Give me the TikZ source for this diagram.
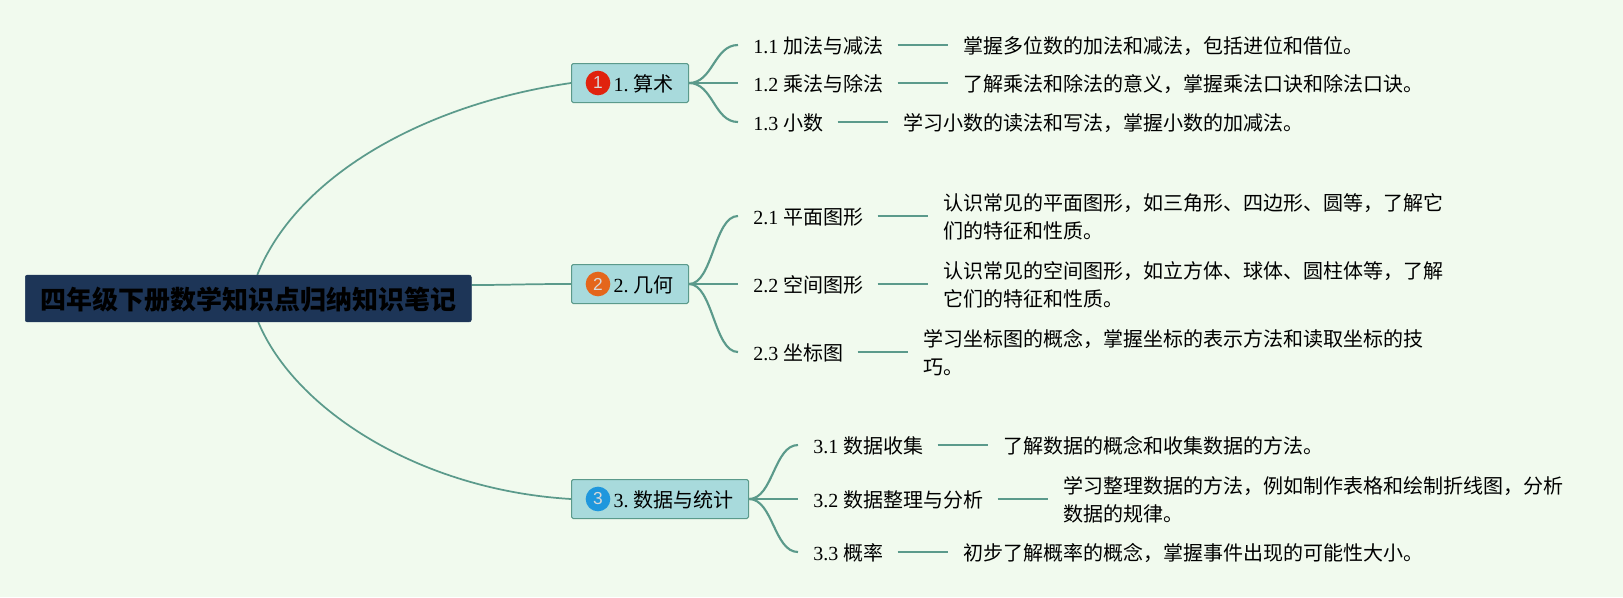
\documentclass[tikz,border=0pt]{standalone}
\usepackage{fontspec}
\setmainfont{Liberation Serif}
\newfontfamily\cjk{Noto Sans CJK SC}
\newfontfamily\iconfont{Liberation Sans}
\usetikzlibrary{backgrounds}
\definecolor{bgc}{HTML}{F1FAEE}
\definecolor{boxc}{HTML}{A8DADC}
\definecolor{rootc}{HTML}{1D3557}
\definecolor{linec}{HTML}{5B9A8B}
\definecolor{ired}{HTML}{E0230E}
\definecolor{iorange}{HTML}{E4661B}
\definecolor{iblue}{HTML}{1F97DD}
\newcommand{\dn}[1]{\raisebox{-0.8pt}[\height][\depth]{#1}}
\newcommand{\branchlabel}[2]{\makebox[#1][l]{\hspace{31.5pt}\dn{#2}}}
\newcommand{\leaftext}[2]{\dn{#1 {\cjk #2}}\hspace*{-0.6pt}}
\tikzset{
  rootbox/.style={draw=rootc,fill=rootc,rounded corners=1.5pt,anchor=west,inner xsep=0pt,inner ysep=0pt,
    minimum width=334.5pt,minimum height=35pt,align=center,font=\cjk\bfseries\fontsize{19.5}{24}\selectfont,text=black},
  branchbox/.style={draw=linec,line width=0.75pt,fill=boxc,rounded corners=1.2pt,anchor=west,inner xsep=0pt,inner ysep=0pt,
    minimum height=29.25pt,font=\fontsize{15}{18}\selectfont,text=black},
  leafbox/.style={anchor=west,inner xsep=11.25pt,inner ysep=2pt,font=\fontsize{15}{18}\selectfont,text=black},
  detailbox/.style={anchor=west,inner xsep=11.25pt,inner ysep=2pt,align=left,font=\cjk\fontsize{15}{21}\selectfont,text=black},
  iconball/.style={circle,minimum size=18.5pt,inner sep=0pt,text=white!85!black,font=\iconfont\fontsize{13}{15}\selectfont},
  conn/.style={draw=linec,line width=1.6pt},
  leafconn/.style={draw=linec,line width=1.4pt},
  mainconn/.style={draw=linec,line width=1.3pt}
}
\begin{document}
\begin{tikzpicture}[x=0.75pt,y=-0.75pt]
\useasboundingbox (0,0) rectangle (1623,597);
% root
\node[rootbox] (root) at (25,298.5) {\dn{四年级下册数学知识点归纳知识笔记}};
% branches
\node[branchbox] (b1) at (571,83) {\branchlabel{87.75pt}{1.\hspace{4pt}{\cjk 算术}}};
\node[branchbox] (b2) at (571,284) {\branchlabel{87.75pt}{2.\hspace{4pt}{\cjk 几何}}};
\node[branchbox] (b3) at (571,499) {\branchlabel{132.75pt}{3.\hspace{4pt}{\cjk 数据与统计}}};
\node[iconball,fill=ired] (i1) at (598,83) {1};
\node[iconball,fill=iorange] (i2) at (598,284) {2};
\node[iconball,fill=iblue] (i3) at (598,499) {3};
% leaves
\node[leafbox] (l11) at (738,45) {\leaftext{1.1}{加法与减法}};
\node[leafbox] (l12) at (738,83) {\leaftext{1.2}{乘法与除法}};
\node[leafbox] (l13) at (738,122) {\leaftext{1.3}{小数}};
\node[leafbox] (l21) at (738,216) {\leaftext{2.1}{平面图形}};
\node[leafbox] (l22) at (738,284) {\leaftext{2.2}{空间图形}};
\node[leafbox] (l23) at (738,352) {\leaftext{2.3}{坐标图}};
\node[leafbox] (l31) at (798,445) {\leaftext{3.1}{数据收集}};
\node[leafbox] (l32) at (798,499) {\leaftext{3.2}{数据整理与分析}};
\node[leafbox] (l33) at (798,552) {\leaftext{3.3}{概率}};
% details
\node[detailbox] (d11) at (948,45) {\dn{掌握多位数的加法和减法，包括进位和借位。}};
\node[detailbox] (d12) at (948,83) {\dn{了解乘法和除法的意义，掌握乘法口诀和除法口诀。}};
\node[detailbox] (d13) at (888,122) {\dn{学习小数的读法和写法，掌握小数的加减法。}};
\node[detailbox] (d21) at (928,216) {\dn{认识常见的平面图形，如三角形、四边形、圆等，了解它}\\\dn{们的特征和性质。}};
\node[detailbox] (d22) at (928,284) {\dn{认识常见的空间图形，如立方体、球体、圆柱体等，了解}\\\dn{它们的特征和性质。}};
\node[detailbox] (d23) at (908,352) {\dn{学习坐标图的概念，掌握坐标的表示方法和读取坐标的技}\\\dn{巧。}};
\node[detailbox] (d31) at (988,445) {\dn{了解数据的概念和收集数据的方法。}};
\node[detailbox] (d32) at (1048,499) {\dn{学习整理数据的方法，例如制作表格和绘制折线图，分析}\\\dn{数据的规律。}};
\node[detailbox] (d33) at (948,552) {\dn{初步了解概率的概念，掌握事件出现的可能性大小。}};
% connectors, drawn under the boxes
\begin{pgfonlayer}{background}
\fill[bgc] (0,0) rectangle (1623,597);
\path (root.north) ++(9,0) coordinate (rootup);
\path (root.south) ++(10,0) coordinate (rootdown);
\path (root.east) ++(0,-13.5) coordinate (rootout);
\draw[mainconn] (rootup) .. controls (296,178) and (420,105) .. (b1.west);
\draw[mainconn] (rootout) .. controls +(40,0) and +(-50,0) .. (b2.west);
\draw[mainconn] (rootdown) .. controls (295,410) and (420,490) .. (b3.west);
\foreach \a/\b in {b1/l11,b1/l13,b2/l21,b2/l23,b3/l31,b3/l33}{
  \draw[conn] (\a.east) .. controls +(24,0) and +(-24,0) .. (\b.west);
}
\foreach \a/\b in {b1/l12,b2/l22,b3/l32}{\draw[conn] (\a.east) -- (\b.west);}
\foreach \n in {11,12,13,21,22,23,31,32,33}{\draw[leafconn] (l\n.east) -- (d\n.west);}
\end{pgfonlayer}
\end{tikzpicture}
\end{document}
